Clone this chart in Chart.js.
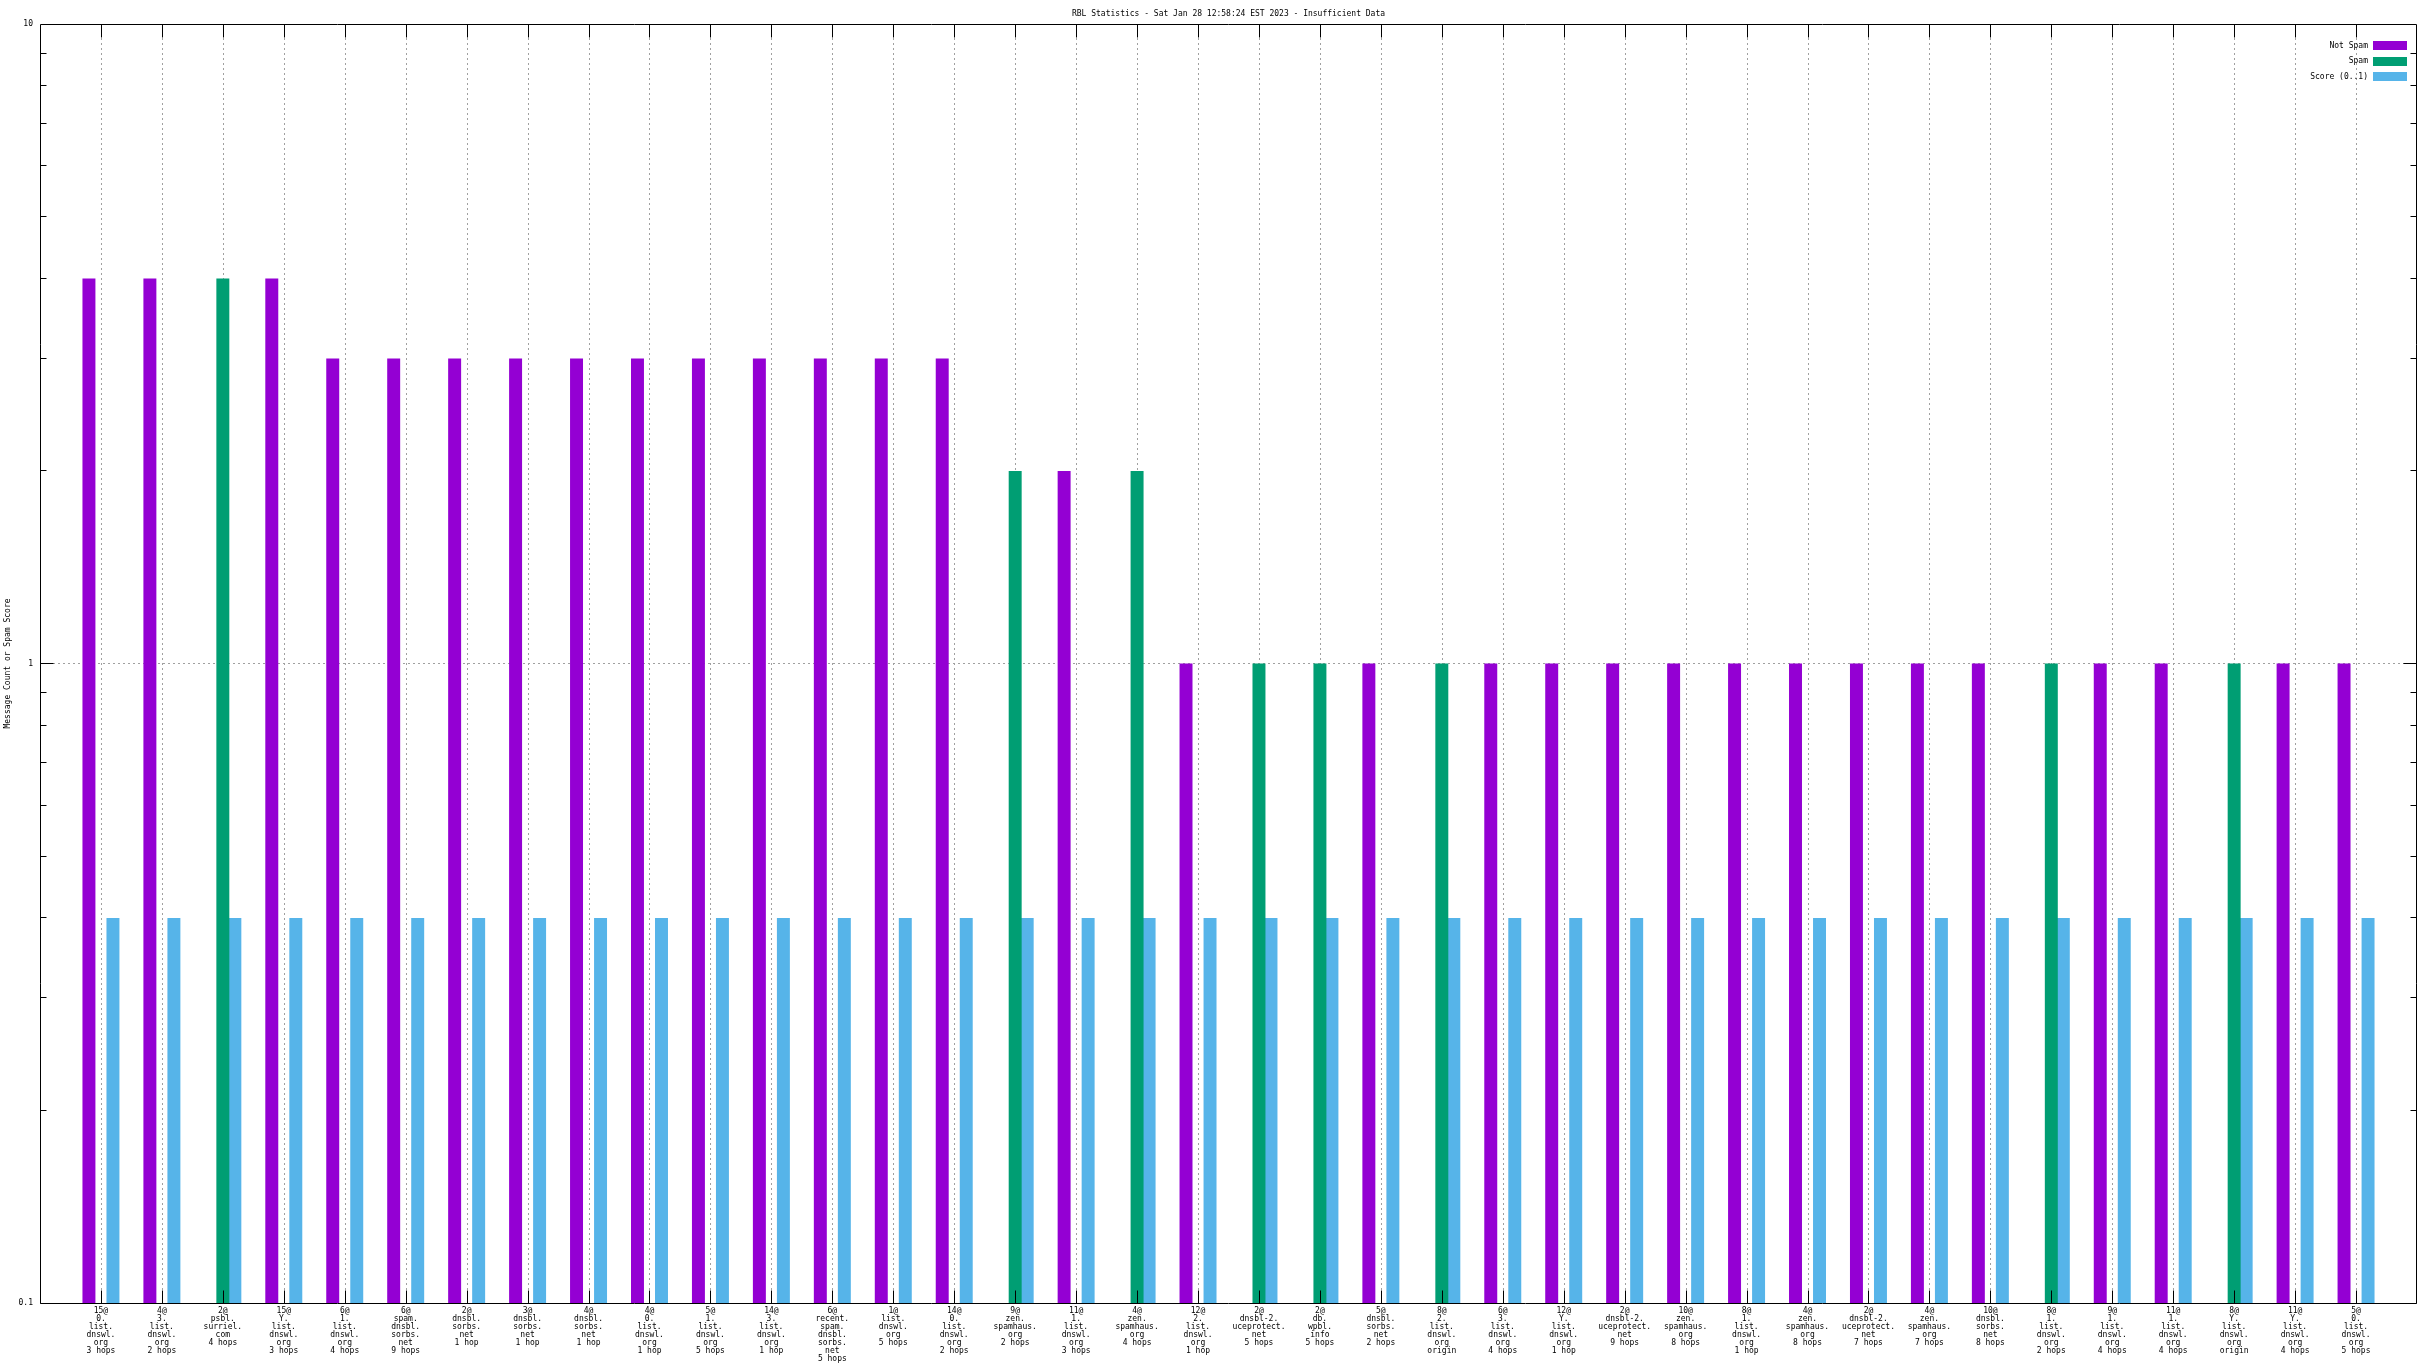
<!DOCTYPE html>
<html>
<head>
<meta charset="utf-8">
<title>RBL Statistics</title>
<script src="https://cdn.jsdelivr.net/npm/chart.js@4.4.1/dist/chart.umd.min.js"></script>
<style>
    html, body { margin: 0; padding: 0; background: #fff; }
    #wrap { width: 2432px; height: 1368px; }
</style>
</head>
<body>
<div id="wrap"><canvas id="rblChart"></canvas></div>
<script>
// RBL bucket labels (host@zone, split into lines like the gnuplot output)
const categories = [
    ['15@', '0.', 'list.', 'dnswl.', 'org', '3 hops'],
    ['4@', '3.', 'list.', 'dnswl.', 'org', '2 hops'],
    ['2@', 'psbl.', 'surriel.', 'com', '4 hops'],
    ['15@', 'Y.', 'list.', 'dnswl.', 'org', '3 hops'],
    ['6@', '1.', 'list.', 'dnswl.', 'org', '4 hops'],
    ['6@', 'spam.', 'dnsbl.', 'sorbs.', 'net', '9 hops'],
    ['2@', 'dnsbl.', 'sorbs.', 'net', '1 hop'],
    ['3@', 'dnsbl.', 'sorbs.', 'net', '1 hop'],
    ['4@', 'dnsbl.', 'sorbs.', 'net', '1 hop'],
    ['4@', '0.', 'list.', 'dnswl.', 'org', '1 hop'],
    ['5@', '1.', 'list.', 'dnswl.', 'org', '5 hops'],
    ['14@', '3.', 'list.', 'dnswl.', 'org', '1 hop'],
    ['6@', 'recent.', 'spam.', 'dnsbl.', 'sorbs.', 'net', '5 hops'],
    ['1@', 'list.', 'dnswl.', 'org', '5 hops'],
    ['14@', '0.', 'list.', 'dnswl.', 'org', '2 hops'],
    ['9@', 'zen.', 'spamhaus.', 'org', '2 hops'],
    ['11@', '1.', 'list.', 'dnswl.', 'org', '3 hops'],
    ['4@', 'zen.', 'spamhaus.', 'org', '4 hops'],
    ['12@', '2.', 'list.', 'dnswl.', 'org', '1 hop'],
    ['2@', 'dnsbl-2.', 'uceprotect.', 'net', '5 hops'],
    ['2@', 'db.', 'wpbl.', 'info', '5 hops'],
    ['5@', 'dnsbl.', 'sorbs.', 'net', '2 hops'],
    ['8@', '2.', 'list.', 'dnswl.', 'org', 'origin'],
    ['6@', '3.', 'list.', 'dnswl.', 'org', '4 hops'],
    ['12@', 'Y.', 'list.', 'dnswl.', 'org', '1 hop'],
    ['2@', 'dnsbl-2.', 'uceprotect.', 'net', '9 hops'],
    ['10@', 'zen.', 'spamhaus.', 'org', '8 hops'],
    ['8@', '1.', 'list.', 'dnswl.', 'org', '1 hop'],
    ['4@', 'zen.', 'spamhaus.', 'org', '8 hops'],
    ['2@', 'dnsbl-2.', 'uceprotect.', 'net', '7 hops'],
    ['4@', 'zen.', 'spamhaus.', 'org', '7 hops'],
    ['10@', 'dnsbl.', 'sorbs.', 'net', '8 hops'],
    ['8@', '1.', 'list.', 'dnswl.', 'org', '2 hops'],
    ['9@', '1.', 'list.', 'dnswl.', 'org', '4 hops'],
    ['11@', '1.', 'list.', 'dnswl.', 'org', '4 hops'],
    ['8@', 'Y.', 'list.', 'dnswl.', 'org', 'origin'],
    ['11@', 'Y.', 'list.', 'dnswl.', 'org', '4 hops'],
    ['5@', '0.', 'list.', 'dnswl.', 'org', '5 hops']
];

// Message counts (null = none, can't show on a log axis)
const notSpam = [4, 4, null, 4, 3, 3, 3, 3, 3, 3, 3, 3, 3, 3, 3, null, 2, null, 1, null,
    null, 1, null, 1, 1, 1, 1, 1, 1, 1, 1, 1, null, 1, 1, null, 1, 1];
const spam = [null, null, 4, null, null, null, null, null, null, null, null, null, null, null, null, 2, null, 2, null, 1,
    1, null, 1, null, null, null, null, null, null, null, null, null, 1, null, null, 1, null, null];
const score = [0.4, 0.4, 0.4, 0.4, 0.4, 0.4, 0.4, 0.4, 0.4, 0.4, 0.4, 0.4, 0.4, 0.4, 0.4, 0.4, 0.4, 0.4, 0.4, 0.4,
    0.4, 0.4, 0.4, 0.4, 0.4, 0.4, 0.4, 0.4, 0.4, 0.4, 0.4, 0.4, 0.4, 0.4, 0.4, 0.4, 0.4, 0.4];

const yTicks = [0.1, 1, 10];
const chartTitle = 'RBL Statistics - Sat Jan 28 12:58:24 EST 2023 - Insufficient Data';
const yTitle = 'Message Count or Spam Score';

const FONT = '"DejaVu Sans Mono", "Liberation Mono", monospace';

// gnuplot's xrange runs one slot past each end, so pad with blank slots
const pad = arr => [null].concat(arr, [null]);
const labels = [''].concat(categories, ['']);

// gnuplot-ish frame: dotted grid, inward ticks, box border, legend
const gnuplotFrame = {
    id: 'gnuplotFrame',
    beforeDatasetsDraw(chart) {
        const { ctx, chartArea: a, scales: { x, y } } = chart;
        ctx.save();
        ctx.strokeStyle = '#a0a0a0';
        ctx.lineWidth = 1;
        ctx.setLineDash([2, 3]);
        ctx.beginPath();
        for (let i = 1; i <= categories.length; i++) {
            const px = Math.round(x.getPixelForValue(i)) + 0.5;
            ctx.moveTo(px, a.bottom - 13);
            ctx.lineTo(px, a.top + 13);
        }
        const py = Math.floor(y.getPixelForValue(1)) + 0.5;
        ctx.moveTo(a.left + 13, py);
        ctx.lineTo(a.right - 13, py);
        ctx.stroke();
        ctx.restore();
    },
    afterDatasetsDraw(chart) {
        const { ctx, chartArea: a, scales: { x, y } } = chart;
        const L = a.left + 0.5, R = a.right - 0.5, T = a.top + 0.5, B = a.bottom + 0.5;
        ctx.save();
        ctx.strokeStyle = '#000';
        ctx.lineWidth = 1;
        ctx.beginPath();
        // x ticks, bottom and mirrored on top
        for (let i = 1; i <= categories.length; i++) {
            const px = Math.round(x.getPixelForValue(i)) + 0.5;
            ctx.moveTo(px, B); ctx.lineTo(px, B - 13);
            ctx.moveTo(px, T); ctx.lineTo(px, T + 13);
        }
        // y major + minor ticks on both sides
        for (let d = y.min; d < y.max * 0.999; d *= 10) {
            for (let m = 1; m <= 9; m++) {
                const py = Math.floor(y.getPixelForValue(d * m)) + 0.5;
                const len = m === 1 ? 13 : 6;
                ctx.moveTo(L, py); ctx.lineTo(L + len, py);
                ctx.moveTo(R, py); ctx.lineTo(R - len, py);
            }
        }
        ctx.rect(L, T, R - L, B - T);
        ctx.stroke();

        // key, top right inside the plot
        ctx.font = '8px ' + FONT;
        ctx.textAlign = 'right';
        ctx.textBaseline = 'middle';
        chart.data.datasets.forEach((ds, i) => {
            const cy = a.top + 21.7 + i * 15.5;
            ctx.fillStyle = '#000';
            ctx.fillText(ds.label, a.right - 49, cy);
            ctx.fillStyle = ds.backgroundColor;
            ctx.fillRect(a.right - 44, Math.round(cy - 4.5), 34, 9);
        });
        ctx.restore();
    }
};

Chart.defaults.color = '#000';
Chart.defaults.font.family = FONT;
Chart.defaults.font.size = 8;

const ctx = document.getElementById('rblChart').getContext('2d');
new Chart(ctx, {
    type: 'bar',
    data: {
        labels: labels,
        datasets: [
            { label: 'Not Spam', data: pad(notSpam), backgroundColor: '#9400D3' },
            { label: 'Spam', data: pad(spam), backgroundColor: '#009E73' },
            { label: 'Score (0..1)', data: pad(score), backgroundColor: '#56B4E9' }
        ]
    },
    options: {
        responsive: true,
        maintainAspectRatio: false,
        animation: false,
        events: [],
        categoryPercentage: 0.591,
        barPercentage: 1.08,
        layout: { padding: { left: 0, right: 15, top: 0, bottom: 0 } },
        plugins: {
            legend: { display: false },
            tooltip: { enabled: false },
            title: {
                display: true,
                text: chartTitle,
                fullSize: false,
                color: '#000',
                font: { size: 8, weight: 'normal', lineHeight: 1.25 },
                padding: { top: 9, bottom: 5 }
            }
        },
        scales: {
            x: {
                offset: false,
                grid: { display: false, drawTicks: false },
                border: { display: false },
                ticks: {
                    autoSkip: false,
                    maxRotation: 0,
                    minRotation: 0,
                    padding: 4,
                    color: '#000',
                    font: { size: 8, lineHeight: 1 }
                },
                afterFit(scale) { scale.height = 65; }
            },
            y: {
                type: 'logarithmic',
                min: 0.1,
                max: 10,
                grid: { display: false, drawTicks: false },
                border: { display: false },
                afterBuildTicks(scale) {
                    scale.ticks = yTicks.map(v => ({ value: v }));
                },
                ticks: {
                    padding: 7,
                    color: '#000',
                    font: { size: 8, lineHeight: 1 },
                    callback: v => String(v)
                },
                title: {
                    display: true,
                    text: yTitle,
                    color: '#000',
                    font: { size: 8, lineHeight: 1.25 },
                    padding: { top: 3, bottom: 0 }
                },
                afterFit(scale) { scale.width = 40; }
            }
        }
    },
    plugins: [gnuplotFrame]
});
</script>
</body>
</html>
